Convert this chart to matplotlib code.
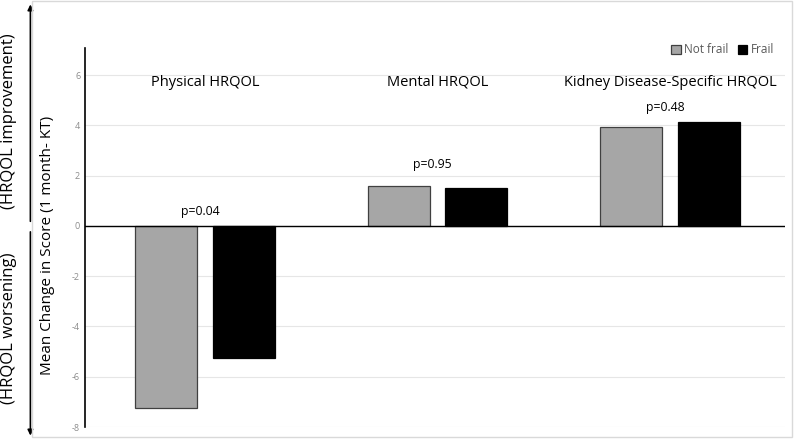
import numpy as np
import matplotlib.pyplot as plt
from matplotlib.patches import Rectangle

categories = ["Physical HRQOL", "Mental HRQOL", "Kidney Disease-Specific HRQOL"]
not_frail = [-7.25, 1.6, 3.95]
frail = [-5.25, 1.5, 4.15]
p_labels = ["p=0.04", "p=0.95", "p=0.48"]
p_y = [0.56, 2.45, 4.7]
yticks = [-8, -6, -4, -2, 0, 2, 4, 6]

plt.rcParams["font.family"] = ["Open Sans", "DejaVu Sans"]

fig = plt.figure(figsize=(8, 4.4), dpi=100)
fig.patch.set_facecolor("white")

# light frame around the chart area
fig.patches.append(Rectangle((0.04, 0.007), 0.95, 0.99, transform=fig.transFigure,
                             fill=False, edgecolor="#d9d9d9", linewidth=1.0))

ax = fig.add_axes([0.10625, 0.0295, 0.875, 0.8615])
x = np.arange(len(categories))
w = 0.267
off = 0.167

ax.bar(x - off, not_frail, width=w, color="#a6a6a6", edgecolor="#404040", linewidth=0.9,
       label="Not frail", zorder=3)
ax.bar(x + off, frail, width=w, color="black", edgecolor="black", linewidth=0.9,
       label="Frail", zorder=3)

ax.axhline(0, color="black", linewidth=1.0, zorder=4)
ax.set_xlim(-0.516, 2.495)
ax.set_ylim(-8, 7.08)
ax.set_yticks(yticks)
ax.set_yticklabels([str(t) for t in yticks], fontsize=6.5, color="#8c8c8c")
ax.set_xticks([])
ax.tick_params(axis="y", length=0, pad=3.5)
ax.yaxis.grid(True, color="#e6e6e6", linewidth=0.8)
ax.set_axisbelow(True)
for s in ["top", "right", "bottom"]:
    ax.spines[s].set_visible(False)
ax.spines["left"].set_linewidth(1.2)

for i, c in enumerate(categories):
    ax.text(x[i], 5.72, c, ha="center", va="center", fontsize=10.5)
    ax.text(x[i] - 0.02, p_y[i], p_labels[i], ha="center", va="center", fontsize=8.8)

ax.set_ylabel("Mean Change in Score (1 month- KT)", fontsize=11)
ax.yaxis.set_label_coords(-0.043, 0.48)

leg = ax.legend(loc="upper right", bbox_to_anchor=(1.0, 1.04), ncol=2, frameon=False,
                fontsize=8.5, handlelength=0.8, handleheight=0.8, handletextpad=0.3,
                columnspacing=0.8, labelcolor="#595959")

# improvement / worsening arrows on the left
ax.annotate("", xy=(0.038, 0.99), xytext=(0.038, 0.497), xycoords="figure fraction",
            arrowprops=dict(arrowstyle="-|>", color="black", lw=1.2, mutation_scale=8,
                            shrinkA=0, shrinkB=0))
ax.annotate("", xy=(0.038, 0.01), xytext=(0.038, 0.473), xycoords="figure fraction",
            arrowprops=dict(arrowstyle="-|>", color="black", lw=1.2, mutation_scale=8,
                            shrinkA=0, shrinkB=0))
fig.text(0.011, 0.725, "(HRQOL improvement)", rotation=90, ha="center", va="center", fontsize=12)
fig.text(0.011, 0.255, "(HRQOL worsening)", rotation=90, ha="center", va="center", fontsize=12)

fig.savefig("out.png", dpi=100)
